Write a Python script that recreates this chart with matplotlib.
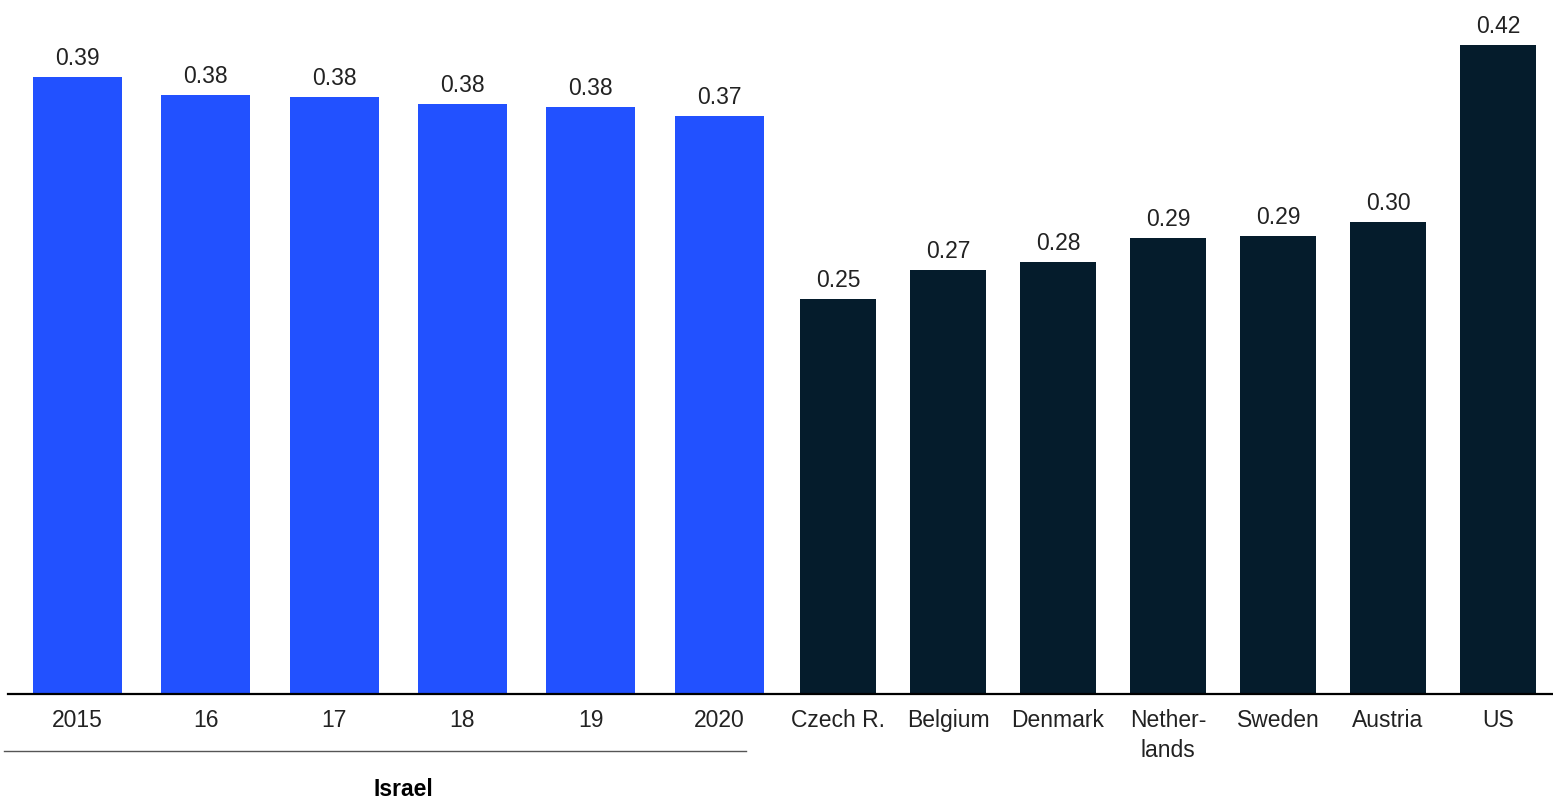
import numpy as np
import matplotlib.pyplot as plt
from matplotlib.lines import Line2D

# data
israel_years = ['2015', '16', '17', '18', '19', '2020']
israel_values = [0.393, 0.3815, 0.380, 0.3758, 0.374, 0.368]
israel_labels = ['0.39', '0.38', '0.38', '0.38', '0.38', '0.37']

countries = ['Czech R.', 'Belgium', 'Denmark', 'Nether-\nlands', 'Sweden', 'Austria', 'US']
country_values = [0.2516, 0.270, 0.275, 0.2904, 0.2917, 0.3006, 0.4134]
country_labels = ['0.25', '0.27', '0.28', '0.29', '0.29', '0.30', '0.42']

BLUE = '#2251FF'
NAVY = '#051C2C'

plt.rcParams['font.family'] = ['Liberation Sans', 'DejaVu Sans']

W, H = 1553, 802
fig = plt.figure(figsize=(W / 100, H / 100), dpi=100)
base_px = 694
ax = fig.add_axes([0, 1 - base_px / H, 1, base_px / H])

# layout (in pixel-like x units)
isr_x = 77.5 + 128.3 * np.arange(len(israel_years))
cty_x = 838 + 110 * np.arange(len(countries))

ax.bar(isr_x, israel_values, width=89, color=BLUE)
ax.bar(cty_x, country_values, width=76, color=NAVY)

for x, v, s in zip(isr_x, israel_values, israel_labels):
    ax.annotate(s, (x, v), xytext=(0, 5), textcoords='offset points',
                ha='center', va='bottom', fontsize=16.5, color='#222222')
for x, v, s in zip(cty_x, country_values, country_labels):
    ax.annotate(s, (x, v), xytext=(0, 5), textcoords='offset points',
                ha='center', va='bottom', fontsize=16.5, color='#222222')

ax.set_xlim(0, W)
ax.set_ylim(0, base_px / 1570)
ax.set_xticks(list(isr_x) + list(cty_x))
ax.set_xticklabels(israel_years + countries, fontsize=16.5, color='#222222',
                   linespacing=1.4)
ax.tick_params(axis='x', length=0, pad=11)
ax.set_yticks([])
for s in ax.spines.values():
    s.set_visible(False)
ax.axhline(0, xmin=8 / W, xmax=1, color='black', linewidth=1.6, clip_on=False)

# group bracket for Israel
fig.add_artist(Line2D([4 / W, 746 / W], [1 - 751 / H, 1 - 751 / H],
                      color='#555555', linewidth=1))
fig.text(403 / W, 1 - 789 / H, 'Israel', ha='center', va='center',
         fontsize=16.5, fontweight='bold', color='black')

plt.savefig('out.png', dpi=100)
